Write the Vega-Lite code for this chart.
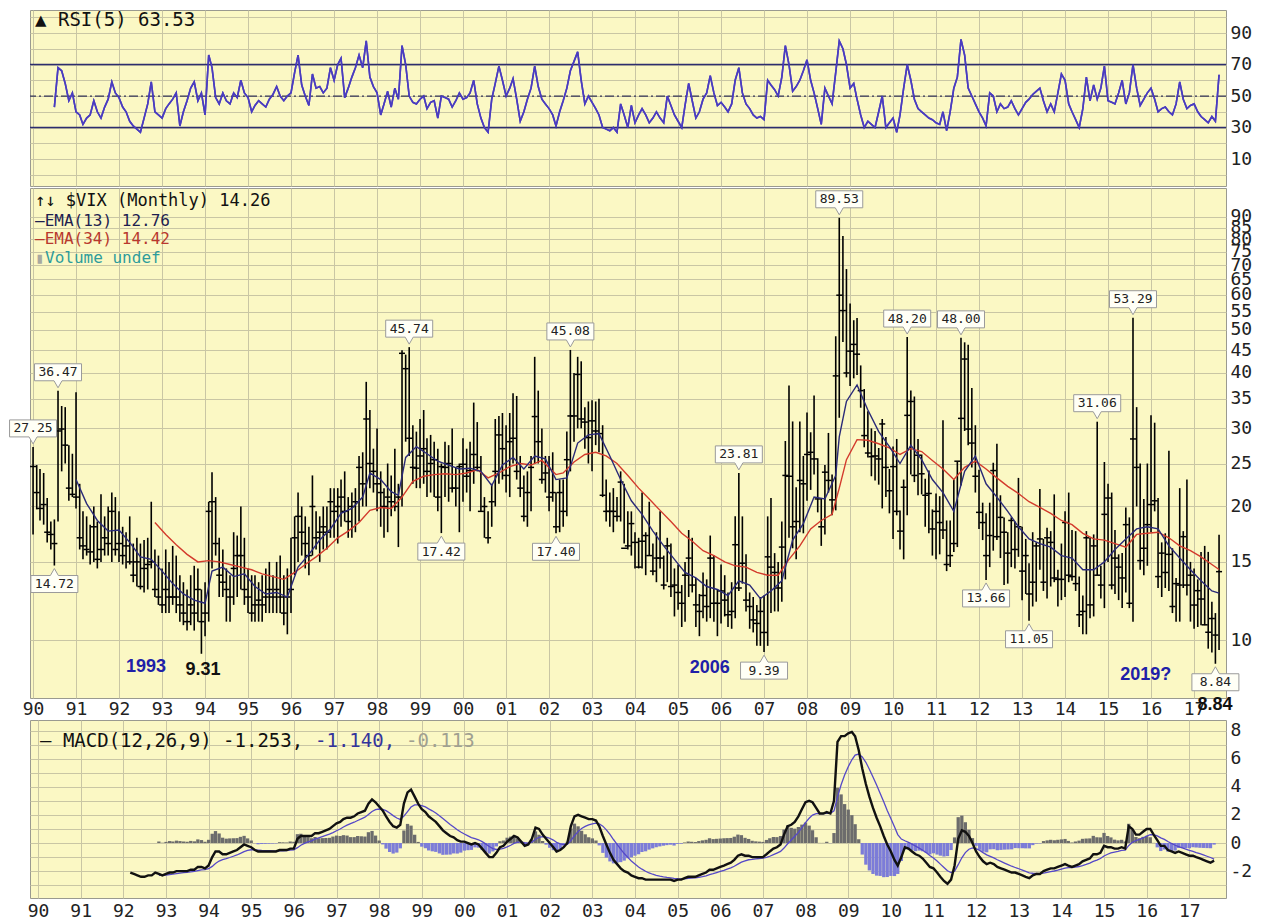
{
"$schema":"https://vega.github.io/schema/vega-lite/v6.json",
"background":"white",
"padding":{"left":7,"top":9,"right":0,"bottom":0},
"autosize":{"type":"pad"},
"config":{
 "locale":{"number":{"decimal":".","thousands":",","grouping":[3],"currency":["$",""],"minus":"-"}},
 "view":{"fill":"#FBF8C4","stroke":"#9A9A90","strokeWidth":1},
 "axis":{"labelFont":"DejaVu Sans Mono","labelFontSize":18,"labelColor":"#222222","gridColor":"#C9C6A4","gridWidth":1,"gridOpacity":1,"domain":false,"ticks":false,"title":null,"labelOverlap":false},
 "text":{"font":"DejaVu Sans Mono"}
},
"datasets":{
"vix":[
{"d":"1990-01-01","h":27.25,"l":17.3,"c":24.6},
{"d":"1990-02-01","h":24.8,"l":19.7,"c":21.5},
{"d":"1990-03-01","h":24.3,"l":18.6,"c":19.8},
{"d":"1990-04-01","h":23.8,"l":18.2,"c":20.2},
{"d":"1990-05-01","h":20.9,"l":16.6,"c":17.5},
{"d":"1990-06-01","h":18.5,"l":16.0,"c":17.3},
{"d":"1990-07-01","h":18.7,"l":14.72,"c":16.5,"r":43},
{"d":"1990-08-01","h":36.47,"l":18.5,"c":29.6,"r":68},
{"d":"1990-09-01","h":33.7,"l":24.0,"c":29.9,"r":66},
{"d":"1990-10-01","h":33.5,"l":25.0,"c":27.5,"r":58},
{"d":"1990-11-01","h":27.5,"l":20.6,"c":22.0,"r":47},
{"d":"1990-12-01","h":26.3,"l":21.0,"c":21.3,"r":52},
{"d":"1991-01-01","h":36.2,"l":19.8,"c":21.0,"r":40},
{"d":"1991-02-01","h":22.5,"l":16.0,"c":17.0,"r":38},
{"d":"1991-03-01","h":19.5,"l":15.2,"c":16.3,"r":32},
{"d":"1991-04-01","h":19.0,"l":15.5,"c":16.0,"r":36},
{"d":"1991-05-01","h":18.2,"l":14.8,"c":15.8,"r":38},
{"d":"1991-06-01","h":20.0,"l":15.0,"c":18.0,"r":47},
{"d":"1991-07-01","h":18.5,"l":14.5,"c":15.2,"r":40},
{"d":"1991-08-01","h":21.3,"l":15.0,"c":16.0,"r":36},
{"d":"1991-09-01","h":19.0,"l":15.5,"c":17.0,"r":43},
{"d":"1991-10-01","h":20.0,"l":15.5,"c":16.5,"r":48},
{"d":"1991-11-01","h":21.5,"l":15.0,"c":19.5,"r":59},
{"d":"1991-12-01","h":21.0,"l":15.5,"c":16.0,"r":52},
{"d":"1992-01-01","h":19.5,"l":15.0,"c":16.5,"r":49},
{"d":"1992-02-01","h":18.0,"l":14.8,"c":15.5,"r":43},
{"d":"1992-03-01","h":17.5,"l":14.5,"c":16.3,"r":40,"m":-2.1},
{"d":"1992-04-01","h":19.0,"l":14.8,"c":15.0,"r":34,"m":-2.2},
{"d":"1992-05-01","h":16.5,"l":13.5,"c":14.0,"r":31,"m":-2.3},
{"d":"1992-06-01","h":17.0,"l":13.2,"c":15.0,"r":29,"m":-2.4},
{"d":"1992-07-01","h":16.5,"l":13.0,"c":13.2,"r":27,"m":-2.4},
{"d":"1992-08-01","h":16.8,"l":12.8,"c":14.5,"r":36,"m":-2.3},
{"d":"1992-09-01","h":17.0,"l":13.0,"c":14.8,"r":45,"m":-2.3},
{"d":"1992-10-01","h":20.5,"l":14.5,"c":15.0,"r":59,"m":-2.1},
{"d":"1992-11-01","h":16.0,"l":12.5,"c":13.0,"r":40,"m":-2.2,"s":-2.3,"b":0.1},
{"d":"1992-12-01","h":15.5,"l":12.0,"c":12.5,"r":38,"m":-2.3,"s":-2.3,"b":0.02},
{"d":"1993-01-01","h":14.5,"l":11.5,"c":12.0,"r":36,"m":-2.2,"s":-2.28,"b":0.08},
{"d":"1993-02-01","h":16.0,"l":11.5,"c":13.0,"r":42,"m":-2.1,"s":-2.24,"b":0.14},
{"d":"1993-03-01","h":15.0,"l":11.5,"c":12.5,"r":45,"m":-2.1,"s":-2.21,"b":0.11},
{"d":"1993-04-01","h":16.3,"l":12.0,"c":12.5,"r":48,"m":-2.0,"s":-2.17,"b":0.17},
{"d":"1993-05-01","h":15.5,"l":11.5,"c":12.5,"r":52,"m":-2.0,"s":-2.14,"b":0.14},
{"d":"1993-06-01","h":14.0,"l":11.0,"c":12.0,"r":31,"m":-2.0,"s":-2.11,"b":0.11},
{"d":"1993-07-01","h":13.5,"l":10.8,"c":11.5,"r":40,"m":-2.0,"s":-2.09,"b":0.09},
{"d":"1993-08-01","h":13.0,"l":10.5,"c":11.0,"r":47,"m":-1.9,"s":-2.05,"b":0.15},
{"d":"1993-09-01","h":14.0,"l":10.8,"c":12.0,"r":55,"m":-1.9,"s":-2.02,"b":0.12},
{"d":"1993-10-01","h":14.7,"l":10.5,"c":11.5,"r":59,"m":-1.7,"s":-1.96,"b":0.26},
{"d":"1993-11-01","h":14.5,"l":11.0,"c":13.0,"r":47,"m":-1.7,"s":-1.91,"b":0.21},
{"d":"1993-12-01","h":13.0,"l":9.31,"c":11.0,"r":52,"m":-1.8,"s":-1.89,"b":0.09},
{"d":"1994-01-01","h":13.5,"l":10.2,"c":11.5,"r":38,"m":-1.6,"s":-1.83,"b":0.23},
{"d":"1994-02-01","h":20.5,"l":11.0,"c":19.5,"r":76,"m":-1.0,"s":-1.66,"b":0.66},
{"d":"1994-03-01","h":23.9,"l":14.5,"c":20.5,"r":68,"m":-0.6,"s":-1.45,"b":0.85},
{"d":"1994-04-01","h":21.0,"l":15.5,"c":16.5,"r":49,"m":-0.6,"s":-1.28,"b":0.68},
{"d":"1994-05-01","h":17.0,"l":12.5,"c":14.0,"r":45,"m":-0.8,"s":-1.18,"b":0.38},
{"d":"1994-06-01","h":16.0,"l":12.5,"c":13.5,"r":52,"m":-0.8,"s":-1.11,"b":0.31},
{"d":"1994-07-01","h":14.5,"l":11.0,"c":13.0,"r":47,"m":-0.7,"s":-1.03,"b":0.33},
{"d":"1994-08-01","h":14.0,"l":11.0,"c":12.5,"r":45,"m":-0.6,"s":-0.94,"b":0.34},
{"d":"1994-09-01","h":17.5,"l":12.0,"c":14.5,"r":52,"m":-0.5,"s":-0.85,"b":0.35},
{"d":"1994-10-01","h":17.2,"l":12.5,"c":15.5,"r":49,"m":-0.3,"s":-0.74,"b":0.44},
{"d":"1994-11-01","h":20.0,"l":13.0,"c":15.5,"r":60,"m":-0.1,"s":-0.61,"b":0.51},
{"d":"1994-12-01","h":17.0,"l":12.0,"c":13.0,"r":52,"m":-0.2,"s":-0.53,"b":0.33},
{"d":"1995-01-01","h":14.5,"l":11.5,"c":12.5,"r":49,"m":-0.3,"s":-0.48,"b":0.18},
{"d":"1995-02-01","h":14.0,"l":11.0,"c":11.5,"r":40,"m":-0.5,"s":-0.49,"b":-0.01},
{"d":"1995-03-01","h":14.0,"l":11.0,"c":12.0,"r":44,"m":-0.6,"s":-0.51,"b":-0.09},
{"d":"1995-04-01","h":13.5,"l":11.0,"c":12.3,"r":47,"m":-0.6,"s":-0.53,"b":-0.07},
{"d":"1995-05-01","h":14.0,"l":11.0,"c":12.0,"r":45,"m":-0.6,"s":-0.54,"b":-0.06},
{"d":"1995-06-01","h":14.5,"l":11.5,"c":12.5,"r":43,"m":-0.6,"s":-0.55,"b":-0.05},
{"d":"1995-07-01","h":15.0,"l":11.5,"c":13.0,"r":48,"m":-0.6,"s":-0.56,"b":-0.04},
{"d":"1995-08-01","h":14.0,"l":11.5,"c":12.5,"r":51,"m":-0.6,"s":-0.57,"b":-0.03},
{"d":"1995-09-01","h":15.0,"l":11.5,"c":13.0,"r":56,"m":-0.5,"s":-0.56,"b":0.06},
{"d":"1995-10-01","h":15.5,"l":11.5,"c":12.5,"r":50,"m":-0.5,"s":-0.55,"b":0.05},
{"d":"1995-11-01","h":14.0,"l":10.8,"c":11.5,"r":47,"m":-0.5,"s":-0.54,"b":0.04},
{"d":"1995-12-01","h":14.5,"l":10.3,"c":12.5,"r":50,"m":-0.4,"s":-0.51,"b":0.11},
{"d":"1996-01-01","h":17.0,"l":11.5,"c":13.0,"r":52,"m":-0.4,"s":-0.49,"b":0.09},
{"d":"1996-02-01","h":19.0,"l":14.0,"c":17.0,"r":65,"m":0.3,"s":-0.33,"b":0.63},
{"d":"1996-03-01","h":21.5,"l":15.0,"c":19.0,"r":76,"m":0.5,"s":-0.16,"b":0.66},
{"d":"1996-04-01","h":20.0,"l":15.5,"c":17.5,"r":57,"m":0.5,"s":-0.03,"b":0.53},
{"d":"1996-05-01","h":19.0,"l":14.5,"c":16.5,"r":50,"m":0.5,"s":0.08,"b":0.42},
{"d":"1996-06-01","h":18.0,"l":14.0,"c":15.5,"r":44,"m":0.5,"s":0.16,"b":0.34},
{"d":"1996-07-01","h":23.5,"l":15.5,"c":20.0,"r":64,"m":0.7,"s":0.27,"b":0.43},
{"d":"1996-08-01","h":19.5,"l":16.0,"c":17.0,"r":55,"m":0.7,"s":0.36,"b":0.34},
{"d":"1996-09-01","h":19.0,"l":15.0,"c":17.5,"r":56,"m":0.8,"s":0.45,"b":0.35},
{"d":"1996-10-01","h":20.0,"l":16.0,"c":18.0,"r":52,"m":0.9,"s":0.54,"b":0.36},
{"d":"1996-11-01","h":20.0,"l":16.0,"c":17.5,"r":55,"m":1.0,"s":0.63,"b":0.37},
{"d":"1996-12-01","h":22.0,"l":17.0,"c":20.5,"r":68,"m":1.2,"s":0.74,"b":0.46},
{"d":"1997-01-01","h":22.0,"l":17.0,"c":19.5,"r":60,"m":1.4,"s":0.87,"b":0.53},
{"d":"1997-02-01","h":22.0,"l":16.5,"c":20.0,"r":70,"m":1.5,"s":1.0,"b":0.5},
{"d":"1997-03-01","h":23.0,"l":18.0,"c":21.0,"r":74,"m":1.7,"s":1.14,"b":0.56},
{"d":"1997-04-01","h":24.0,"l":18.5,"c":19.5,"r":49,"m":1.8,"s":1.27,"b":0.53},
{"d":"1997-05-01","h":21.0,"l":17.0,"c":18.5,"r":55,"m":1.8,"s":1.38,"b":0.42},
{"d":"1997-06-01","h":21.5,"l":17.0,"c":20.0,"r":62,"m":1.9,"s":1.48,"b":0.42},
{"d":"1997-07-01","h":22.0,"l":17.5,"c":20.5,"r":68,"m":2.1,"s":1.6,"b":0.5},
{"d":"1997-08-01","h":26.0,"l":18.5,"c":24.5,"r":76,"m":2.2,"s":1.72,"b":0.48},
{"d":"1997-09-01","h":26.5,"l":20.0,"c":22.5,"r":68,"m":2.3,"s":1.84,"b":0.46},
{"d":"1997-10-01","h":38.2,"l":20.0,"c":31.5,"r":85,"m":2.8,"s":2.03,"b":0.77},
{"d":"1997-11-01","h":33.0,"l":22.0,"c":25.0,"r":62,"m":3.1,"s":2.24,"b":0.86},
{"d":"1997-12-01","h":27.0,"l":21.5,"c":24.0,"r":56,"m":2.9,"s":2.37,"b":0.53},
{"d":"1998-01-01","h":30.0,"l":19.5,"c":22.5,"r":52,"m":2.6,"s":2.42,"b":0.18},
{"d":"1998-02-01","h":24.0,"l":18.0,"c":21.5,"r":38,"m":2.3,"s":2.4,"b":-0.1},
{"d":"1998-03-01","h":22.0,"l":17.0,"c":20.0,"r":45,"m":1.9,"s":2.3,"b":-0.4},
{"d":"1998-04-01","h":25.0,"l":17.5,"c":21.0,"r":53,"m":1.5,"s":2.14,"b":-0.64},
{"d":"1998-05-01","h":23.5,"l":19.0,"c":20.5,"r":43,"m":1.2,"s":1.95,"b":-0.75},
{"d":"1998-06-01","h":27.0,"l":19.5,"c":20.0,"r":55,"m":1.1,"s":1.78,"b":-0.68},
{"d":"1998-07-01","h":22.5,"l":16.2,"c":21.0,"r":48,"m":1.3,"s":1.68,"b":-0.38},
{"d":"1998-08-01","h":45.0,"l":20.0,"c":44.3,"r":82,"m":2.8,"s":1.91,"b":0.89},
{"d":"1998-09-01","h":44.0,"l":28.0,"c":40.9,"r":70,"m":3.6,"s":2.24,"b":1.36},
{"d":"1998-10-01","h":45.74,"l":26.0,"c":28.5,"r":50,"m":3.8,"s":2.56,"b":1.24},
{"d":"1998-11-01","h":30.5,"l":22.5,"c":24.5,"r":46,"m":3.3,"s":2.71,"b":0.59},
{"d":"1998-12-01","h":29.5,"l":22.0,"c":24.4,"r":45,"m":2.8,"s":2.72,"b":0.08},
{"d":"1999-01-01","h":31.5,"l":22.0,"c":26.0,"r":48,"m":2.4,"s":2.66,"b":-0.26},
{"d":"1999-02-01","h":33.0,"l":22.5,"c":27.0,"r":50,"m":2.2,"s":2.57,"b":-0.37},
{"d":"1999-03-01","h":28.5,"l":21.0,"c":24.0,"r":42,"m":1.9,"s":2.43,"b":-0.53},
{"d":"1999-04-01","h":29.0,"l":21.5,"c":25.0,"r":46,"m":1.7,"s":2.29,"b":-0.59},
{"d":"1999-05-01","h":28.0,"l":21.0,"c":25.5,"r":47,"m":1.5,"s":2.13,"b":-0.63},
{"d":"1999-06-01","h":27.0,"l":19.5,"c":21.0,"r":36,"m":1.2,"s":1.94,"b":-0.74},
{"d":"1999-07-01","h":25.0,"l":17.42,"c":24.6,"r":50,"m":0.9,"s":1.74,"b":-0.84},
{"d":"1999-08-01","h":28.0,"l":21.0,"c":24.5,"r":49,"m":0.7,"s":1.53,"b":-0.83},
{"d":"1999-09-01","h":27.5,"l":20.5,"c":25.0,"r":48,"m":0.5,"s":1.32,"b":-0.82},
{"d":"1999-10-01","h":30.0,"l":21.5,"c":22.0,"r":43,"m":0.4,"s":1.14,"b":-0.74},
{"d":"1999-11-01","h":24.5,"l":20.0,"c":22.0,"r":47,"m":0.2,"s":0.95,"b":-0.75},
{"d":"1999-12-01","h":25.0,"l":17.5,"c":24.6,"r":52,"m":0.1,"s":0.78,"b":-0.68},
{"d":"2000-01-01","h":28.5,"l":20.5,"c":24.9,"r":48,"m":0.1,"s":0.64,"b":-0.54},
{"d":"2000-02-01","h":27.0,"l":21.5,"c":23.4,"r":49,"m":0.0,"s":0.51,"b":-0.51},
{"d":"2000-03-01","h":28.0,"l":19.5,"c":24.1,"r":52,"m":-0.1,"s":0.39,"b":-0.49},
{"d":"2000-04-01","h":34.3,"l":22.5,"c":26.2,"r":60,"m":0.0,"s":0.31,"b":-0.31},
{"d":"2000-05-01","h":31.0,"l":24.0,"c":24.5,"r":45,"m":-0.1,"s":0.23,"b":-0.33},
{"d":"2000-06-01","h":26.0,"l":19.5,"c":19.5,"r":36,"m":-0.4,"s":0.1,"b":-0.5},
{"d":"2000-07-01","h":21.0,"l":17.0,"c":20.0,"r":30,"m":-0.7,"s":-0.06,"b":-0.64},
{"d":"2000-08-01","h":19.5,"l":16.5,"c":17.0,"r":27,"m":-1.0,"s":-0.25,"b":-0.75},
{"d":"2000-09-01","h":22.5,"l":18.0,"c":20.5,"r":48,"m":-1.0,"s":-0.4,"b":-0.6},
{"d":"2000-10-01","h":31.5,"l":20.0,"c":24.0,"r":58,"m":-0.7,"s":-0.46,"b":-0.24},
{"d":"2000-11-01","h":32.0,"l":22.5,"c":29.0,"r":69,"m":-0.3,"s":-0.43,"b":0.13},
{"d":"2000-12-01","h":32.5,"l":23.0,"c":27.0,"r":60,"m":-0.2,"s":-0.38,"b":0.18},
{"d":"2001-01-01","h":30.5,"l":21.5,"c":23.5,"r":50,"m":0.1,"s":-0.28,"b":0.38},
{"d":"2001-02-01","h":32.5,"l":21.0,"c":28.0,"r":55,"m":0.3,"s":-0.16,"b":0.46},
{"d":"2001-03-01","h":36.0,"l":25.0,"c":28.5,"r":61,"m":0.5,"s":-0.03,"b":0.53},
{"d":"2001-04-01","h":35.5,"l":23.0,"c":24.0,"r":48,"m":0.4,"s":0.06,"b":0.34},
{"d":"2001-05-01","h":26.0,"l":21.0,"c":22.0,"r":34,"m":0.1,"s":0.07,"b":0.03},
{"d":"2001-06-01","h":23.5,"l":18.5,"c":19.0,"r":40,"m":-0.2,"s":0.02,"b":-0.22},
{"d":"2001-07-01","h":24.0,"l":18.0,"c":21.5,"r":48,"m":-0.1,"s":0.0,"b":-0.1},
{"d":"2001-08-01","h":26.0,"l":19.5,"c":24.5,"r":55,"m":0.3,"s":0.06,"b":0.24},
{"d":"2001-09-01","h":43.5,"l":25.0,"c":31.9,"r":69,"m":1.1,"s":0.27,"b":0.83},
{"d":"2001-10-01","h":36.5,"l":25.0,"c":28.0,"r":56,"m":1.0,"s":0.41,"b":0.59},
{"d":"2001-11-01","h":30.0,"l":22.5,"c":23.0,"r":48,"m":0.6,"s":0.45,"b":0.15},
{"d":"2001-12-01","h":26.0,"l":21.5,"c":23.8,"r":45,"m":0.3,"s":0.42,"b":-0.12},
{"d":"2002-01-01","h":26.0,"l":19.5,"c":21.0,"r":42,"m":0.0,"s":0.34,"b":-0.34},
{"d":"2002-02-01","h":26.5,"l":20.5,"c":21.5,"r":38,"m":-0.3,"s":0.21,"b":-0.51},
{"d":"2002-03-01","h":21.5,"l":17.4,"c":18.0,"r":31,"m":-0.6,"s":0.05,"b":-0.65},
{"d":"2002-04-01","h":23.0,"l":17.5,"c":21.5,"r":40,"m":-0.5,"s":-0.06,"b":-0.44},
{"d":"2002-05-01","h":23.0,"l":18.0,"c":19.5,"r":47,"m":-0.3,"s":-0.11,"b":-0.19},
{"d":"2002-06-01","h":29.5,"l":19.0,"c":25.5,"r":55,"m":0.0,"s":-0.09,"b":0.09},
{"d":"2002-07-01","h":45.08,"l":24.0,"c":32.0,"r":66,"m":1.2,"s":0.17,"b":1.03},
{"d":"2002-08-01","h":40.0,"l":28.0,"c":32.0,"r":72,"m":1.9,"s":0.52,"b":1.38},
{"d":"2002-09-01","h":43.5,"l":30.0,"c":39.7,"r":78,"m":2.0,"s":0.81,"b":1.19},
{"d":"2002-10-01","h":42.5,"l":30.0,"c":31.5,"r":60,"m":1.9,"s":1.03,"b":0.87},
{"d":"2002-11-01","h":33.5,"l":27.0,"c":31.0,"r":45,"m":1.8,"s":1.18,"b":0.62},
{"d":"2002-12-01","h":34.5,"l":25.0,"c":28.6,"r":50,"m":1.7,"s":1.29,"b":0.41},
{"d":"2003-01-01","h":34.7,"l":24.0,"c":31.2,"r":46,"m":1.7,"s":1.37,"b":0.33},
{"d":"2003-02-01","h":34.5,"l":27.5,"c":29.6,"r":42,"m":1.6,"s":1.42,"b":0.18},
{"d":"2003-03-01","h":35.0,"l":26.5,"c":29.2,"r":38,"m":1.2,"s":1.37,"b":-0.17},
{"d":"2003-04-01","h":30.5,"l":21.0,"c":21.2,"r":30,"m":0.5,"s":1.2,"b":-0.7},
{"d":"2003-05-01","h":23.0,"l":18.5,"c":19.5,"r":29,"m":-0.1,"s":0.94,"b":-1.04},
{"d":"2003-06-01","h":21.5,"l":18.0,"c":19.5,"r":28,"m":-0.7,"s":0.61,"b":-1.31},
{"d":"2003-07-01","h":22.0,"l":17.5,"c":19.5,"r":30,"m":-1.2,"s":0.25,"b":-1.45},
{"d":"2003-08-01","h":21.0,"l":18.5,"c":19.0,"r":27,"m":-1.5,"s":-0.1,"b":-1.4},
{"d":"2003-09-01","h":24.0,"l":18.5,"c":22.7,"r":45,"m":-1.8,"s":-0.44,"b":-1.36},
{"d":"2003-10-01","h":22.5,"l":16.5,"c":16.1,"r":38,"m":-2.0,"s":-0.75,"b":-1.25},
{"d":"2003-11-01","h":19.5,"l":16.0,"c":16.3,"r":30,"m":-2.1,"s":-1.02,"b":-1.08},
{"d":"2003-12-01","h":19.5,"l":15.5,"c":18.3,"r":44,"m":-2.3,"s":-1.28,"b":-1.02},
{"d":"2004-01-01","h":17.5,"l":14.5,"c":16.6,"r":33,"m":-2.4,"s":-1.5,"b":-0.9},
{"d":"2004-02-01","h":17.0,"l":14.5,"c":14.6,"r":38,"m":-2.5,"s":-1.7,"b":-0.8},
{"d":"2004-03-01","h":21.5,"l":14.5,"c":16.7,"r":42,"m":-2.5,"s":-1.86,"b":-0.64},
{"d":"2004-04-01","h":17.5,"l":14.0,"c":17.2,"r":38,"m":-2.6,"s":-2.01,"b":-0.59},
{"d":"2004-05-01","h":20.5,"l":15.5,"c":15.5,"r":33,"m":-2.6,"s":-2.13,"b":-0.47},
{"d":"2004-06-01","h":16.5,"l":14.0,"c":14.3,"r":36,"m":-2.6,"s":-2.22,"b":-0.38},
{"d":"2004-07-01","h":17.5,"l":13.5,"c":15.3,"r":40,"m":-2.6,"s":-2.3,"b":-0.3},
{"d":"2004-08-01","h":19.5,"l":14.5,"c":15.3,"r":36,"m":-2.6,"s":-2.36,"b":-0.24},
{"d":"2004-09-01","h":15.5,"l":13.0,"c":13.3,"r":33,"m":-2.6,"s":-2.41,"b":-0.19},
{"d":"2004-10-01","h":17.0,"l":13.5,"c":16.3,"r":50,"m":-2.6,"s":-2.45,"b":-0.15},
{"d":"2004-11-01","h":16.5,"l":12.5,"c":13.2,"r":44,"m":-2.6,"s":-2.48,"b":-0.12},
{"d":"2004-12-01","h":14.5,"l":11.3,"c":13.3,"r":38,"m":-2.7,"s":-2.52,"b":-0.18},
{"d":"2005-01-01","h":14.8,"l":11.7,"c":12.8,"r":34,"m":-2.6,"s":-2.54,"b":-0.06},
{"d":"2005-02-01","h":13.3,"l":10.7,"c":12.1,"r":30,"m":-2.6,"s":-2.55,"b":-0.05},
{"d":"2005-03-01","h":15.0,"l":11.0,"c":14.0,"r":44,"m":-2.5,"s":-2.54,"b":0.04},
{"d":"2005-04-01","h":17.7,"l":12.5,"c":15.3,"r":58,"m":-2.4,"s":-2.51,"b":0.11},
{"d":"2005-05-01","h":17.0,"l":12.8,"c":13.3,"r":47,"m":-2.4,"s":-2.49,"b":0.09},
{"d":"2005-06-01","h":13.8,"l":10.7,"c":12.0,"r":36,"m":-2.4,"s":-2.47,"b":0.07},
{"d":"2005-07-01","h":12.7,"l":10.2,"c":11.6,"r":40,"m":-2.3,"s":-2.44,"b":0.14},
{"d":"2005-08-01","h":14.2,"l":11.2,"c":12.6,"r":48,"m":-2.2,"s":-2.39,"b":0.19},
{"d":"2005-09-01","h":13.7,"l":11.0,"c":11.9,"r":52,"m":-2.1,"s":-2.33,"b":0.23},
{"d":"2005-10-01","h":17.2,"l":11.2,"c":15.3,"r":63,"m":-1.9,"s":-2.24,"b":0.34},
{"d":"2005-11-01","h":15.5,"l":11.0,"c":12.1,"r":52,"m":-1.9,"s":-2.18,"b":0.28},
{"d":"2005-12-01","h":13.0,"l":10.2,"c":12.1,"r":44,"m":-1.8,"s":-2.1,"b":0.3},
{"d":"2006-01-01","h":14.8,"l":10.9,"c":12.9,"r":46,"m":-1.7,"s":-2.02,"b":0.32},
{"d":"2006-02-01","h":14.0,"l":11.3,"c":12.3,"r":43,"m":-1.6,"s":-1.94,"b":0.34},
{"d":"2006-03-01","h":12.8,"l":10.7,"c":11.4,"r":40,"m":-1.5,"s":-1.85,"b":0.35},
{"d":"2006-04-01","h":13.5,"l":10.6,"c":11.6,"r":45,"m":-1.4,"s":-1.76,"b":0.36},
{"d":"2006-05-01","h":19.0,"l":11.2,"c":16.4,"r":60,"m":-1.2,"s":-1.65,"b":0.45},
{"d":"2006-06-01","h":23.81,"l":12.9,"c":13.1,"r":68,"m":-0.9,"s":-1.5,"b":0.6},
{"d":"2006-07-01","h":19.0,"l":13.4,"c":14.9,"r":52,"m":-0.8,"s":-1.36,"b":0.56},
{"d":"2006-08-01","h":15.6,"l":11.6,"c":12.3,"r":45,"m":-0.9,"s":-1.27,"b":0.37},
{"d":"2006-09-01","h":12.8,"l":10.6,"c":11.9,"r":42,"m":-0.9,"s":-1.19,"b":0.29},
{"d":"2006-10-01","h":12.5,"l":10.4,"c":11.1,"r":38,"m":-1.0,"s":-1.16,"b":0.16},
{"d":"2006-11-01","h":12.0,"l":9.7,"c":10.9,"r":36,"m":-1.0,"s":-1.12,"b":0.12},
{"d":"2006-12-01","h":12.5,"l":9.7,"c":11.6,"r":37,"m":-1.0,"s":-1.1,"b":0.1},
{"d":"2007-01-01","h":12.6,"l":9.39,"c":10.4,"r":35,"m":-1.0,"s":-1.08,"b":0.08},
{"d":"2007-02-01","h":19.0,"l":9.7,"c":15.4,"r":60,"m":-0.8,"s":-1.02,"b":0.22},
{"d":"2007-03-01","h":20.9,"l":11.5,"c":14.6,"r":57,"m":-0.6,"s":-0.94,"b":0.34},
{"d":"2007-04-01","h":15.7,"l":11.6,"c":14.2,"r":54,"m":-0.4,"s":-0.83,"b":0.43},
{"d":"2007-05-01","h":15.0,"l":11.6,"c":13.1,"r":50,"m":-0.3,"s":-0.72,"b":0.42},
{"d":"2007-06-01","h":18.5,"l":12.2,"c":16.2,"r":62,"m":-0.1,"s":-0.6,"b":0.5},
{"d":"2007-07-01","h":28.1,"l":13.7,"c":23.5,"r":82,"m":0.6,"s":-0.36,"b":0.96},
{"d":"2007-08-01","h":37.5,"l":17.0,"c":23.4,"r":70,"m":1.2,"s":-0.05,"b":1.25},
{"d":"2007-09-01","h":31.1,"l":16.1,"c":18.0,"r":53,"m":1.3,"s":0.22,"b":1.08},
{"d":"2007-10-01","h":22.1,"l":15.2,"c":18.5,"r":56,"m":1.5,"s":0.48,"b":1.02},
{"d":"2007-11-01","h":31.1,"l":17.5,"c":22.9,"r":60,"m":1.9,"s":0.76,"b":1.14},
{"d":"2007-12-01","h":26.0,"l":17.4,"c":22.5,"r":66,"m":2.4,"s":1.09,"b":1.31},
{"d":"2008-01-01","h":32.6,"l":20.6,"c":26.2,"r":73,"m":2.9,"s":1.45,"b":1.45},
{"d":"2008-02-01","h":29.4,"l":21.8,"c":26.5,"r":60,"m":3.0,"s":1.76,"b":1.24},
{"d":"2008-03-01","h":35.6,"l":23.6,"c":25.6,"r":52,"m":2.9,"s":1.99,"b":0.91},
{"d":"2008-04-01","h":25.7,"l":19.4,"c":20.8,"r":42,"m":2.5,"s":2.09,"b":0.41},
{"d":"2008-05-01","h":20.9,"l":16.3,"c":18.0,"r":32,"m":2.1,"s":2.09,"b":0.01},
{"d":"2008-06-01","h":24.8,"l":17.3,"c":23.9,"r":55,"m":2.1,"s":2.09,"b":0.01},
{"d":"2008-07-01","h":29.3,"l":21.5,"c":22.9,"r":50,"m":2.2,"s":2.11,"b":0.09},
{"d":"2008-08-01","h":23.6,"l":19.1,"c":20.7,"r":45,"m":2.1,"s":2.11,"b":-0.01},
{"d":"2008-09-01","h":48.4,"l":19.6,"c":39.4,"r":65,"m":3.0,"s":2.29,"b":0.71},
{"d":"2008-10-01","h":89.53,"l":31.7,"c":59.9,"r":85,"m":7.2,"s":3.27,"b":3.93},
{"d":"2008-11-01","h":81.5,"l":47.0,"c":55.3,"r":80,"m":7.6,"s":4.14,"b":3.46},
{"d":"2008-12-01","h":68.6,"l":39.1,"c":40.0,"r":70,"m":7.6,"s":4.83,"b":2.77},
{"d":"2009-01-01","h":57.4,"l":37.4,"c":44.8,"r":55,"m":7.8,"s":5.42,"b":2.38},
{"d":"2009-02-01","h":52.6,"l":38.9,"c":46.4,"r":58,"m":7.9,"s":5.92,"b":1.98},
{"d":"2009-03-01","h":53.2,"l":39.6,"c":44.1,"r":48,"m":7.6,"s":6.26,"b":1.34},
{"d":"2009-04-01","h":41.6,"l":33.4,"c":36.5,"r":38,"m":6.6,"s":6.33,"b":0.27},
{"d":"2009-05-01","h":36.8,"l":27.2,"c":28.9,"r":30,"m":5.3,"s":6.12,"b":-0.82},
{"d":"2009-06-01","h":32.8,"l":25.8,"c":26.4,"r":34,"m":4.2,"s":5.74,"b":-1.54},
{"d":"2009-07-01","h":30.0,"l":23.4,"c":25.9,"r":32,"m":3.3,"s":5.25,"b":-1.95},
{"d":"2009-08-01","h":29.6,"l":22.9,"c":26.0,"r":30,"m":2.5,"s":4.7,"b":-2.2},
{"d":"2009-09-01","h":27.1,"l":22.4,"c":25.6,"r":40,"m":1.8,"s":4.12,"b":-2.32},
{"d":"2009-10-01","h":31.5,"l":19.8,"c":30.7,"r":50,"m":1.2,"s":3.54,"b":-2.34},
{"d":"2009-11-01","h":28.7,"l":21.0,"c":24.5,"r":30,"m":0.5,"s":2.93,"b":-2.43},
{"d":"2009-12-01","h":24.3,"l":19.3,"c":21.7,"r":33,"m":-0.1,"s":2.32,"b":-2.42},
{"d":"2010-01-01","h":27.3,"l":16.9,"c":24.6,"r":36,"m":-0.6,"s":1.74,"b":-2.34},
{"d":"2010-02-01","h":28.4,"l":19.1,"c":19.5,"r":27,"m":-1.2,"s":1.15,"b":-2.35},
{"d":"2010-03-01","h":19.6,"l":16.0,"c":17.6,"r":38,"m":-1.6,"s":0.6,"b":-2.2},
{"d":"2010-04-01","h":23.0,"l":15.2,"c":22.1,"r":55,"m":-1.0,"s":0.28,"b":-1.28},
{"d":"2010-05-01","h":48.2,"l":19.1,"c":32.1,"r":70,"m":-0.3,"s":0.16,"b":-0.46},
{"d":"2010-06-01","h":36.5,"l":23.6,"c":34.5,"r":60,"m":-0.4,"s":0.05,"b":-0.45},
{"d":"2010-07-01","h":35.4,"l":22.7,"c":23.5,"r":48,"m":-0.6,"s":-0.08,"b":-0.52},
{"d":"2010-08-01","h":28.4,"l":21.2,"c":26.1,"r":42,"m":-0.8,"s":-0.22,"b":-0.58},
{"d":"2010-09-01","h":26.2,"l":21.3,"c":23.7,"r":40,"m":-0.9,"s":-0.36,"b":-0.54},
{"d":"2010-10-01","h":23.1,"l":18.0,"c":21.2,"r":38,"m":-1.1,"s":-0.51,"b":-0.59},
{"d":"2010-11-01","h":24.1,"l":17.4,"c":21.4,"r":36,"m":-1.4,"s":-0.69,"b":-0.71},
{"d":"2010-12-01","h":19.7,"l":15.5,"c":17.8,"r":35,"m":-1.7,"s":-0.89,"b":-0.81},
{"d":"2011-01-01","h":21.4,"l":15.2,"c":19.5,"r":33,"m":-1.8,"s":-1.07,"b":-0.73},
{"d":"2011-02-01","h":21.1,"l":15.6,"c":18.4,"r":32,"m":-2.1,"s":-1.28,"b":-0.82},
{"d":"2011-03-01","h":31.3,"l":16.9,"c":17.7,"r":40,"m":-2.4,"s":-1.5,"b":-0.9},
{"d":"2011-04-01","h":18.6,"l":14.3,"c":14.8,"r":28,"m":-2.7,"s":-1.74,"b":-0.96},
{"d":"2011-05-01","h":18.6,"l":14.6,"c":15.5,"r":40,"m":-2.9,"s":-1.97,"b":-0.93},
{"d":"2011-06-01","h":23.0,"l":15.8,"c":16.5,"r":55,"m":-2.6,"s":-2.1,"b":-0.5},
{"d":"2011-07-01","h":25.2,"l":16.2,"c":25.3,"r":62,"m":-1.6,"s":-2.0,"b":0.4},
{"d":"2011-08-01","h":48.0,"l":22.3,"c":31.6,"r":86,"m":0.3,"s":-1.54,"b":1.84},
{"d":"2011-09-01","h":46.9,"l":29.6,"c":43.0,"r":76,"m":0.9,"s":-1.05,"b":1.95},
{"d":"2011-10-01","h":46.3,"l":27.5,"c":29.9,"r":55,"m":0.8,"s":-0.68,"b":1.48},
{"d":"2011-11-01","h":37.0,"l":24.5,"c":27.8,"r":50,"m":0.5,"s":-0.44,"b":0.94},
{"d":"2011-12-01","h":30.5,"l":21.5,"c":23.4,"r":45,"m":0.0,"s":-0.35,"b":0.35},
{"d":"2012-01-01","h":24.2,"l":17.8,"c":19.4,"r":40,"m":-0.6,"s":-0.4,"b":-0.2},
{"d":"2012-02-01","h":20.4,"l":16.8,"c":18.4,"r":36,"m":-1.0,"s":-0.52,"b":-0.48},
{"d":"2012-03-01","h":19.3,"l":13.66,"c":15.5,"r":31,"m":-1.3,"s":-0.68,"b":-0.62},
{"d":"2012-04-01","h":20.4,"l":14.6,"c":17.2,"r":52,"m":-1.5,"s":-0.84,"b":-0.66},
{"d":"2012-05-01","h":25.1,"l":15.9,"c":24.1,"r":50,"m":-1.4,"s":-0.95,"b":-0.45},
{"d":"2012-06-01","h":27.7,"l":16.8,"c":17.1,"r":40,"m":-1.5,"s":-1.06,"b":-0.44},
{"d":"2012-07-01","h":21.2,"l":15.3,"c":18.9,"r":45,"m":-1.7,"s":-1.19,"b":-0.51},
{"d":"2012-08-01","h":18.9,"l":13.3,"c":17.5,"r":42,"m":-1.8,"s":-1.31,"b":-0.49},
{"d":"2012-09-01","h":17.5,"l":13.4,"c":15.7,"r":43,"m":-1.9,"s":-1.43,"b":-0.47},
{"d":"2012-10-01","h":18.9,"l":14.6,"c":18.6,"r":47,"m":-2.0,"s":-1.54,"b":-0.46},
{"d":"2012-11-01","h":18.5,"l":14.5,"c":16.0,"r":42,"m":-2.1,"s":-1.65,"b":-0.45},
{"d":"2012-12-01","h":23.2,"l":15.4,"c":18.0,"r":38,"m":-2.1,"s":-1.74,"b":-0.36},
{"d":"2013-01-01","h":18.0,"l":12.3,"c":14.3,"r":42,"m":-2.2,"s":-1.83,"b":-0.37},
{"d":"2013-02-01","h":16.9,"l":12.7,"c":15.5,"r":46,"m":-2.3,"s":-1.93,"b":-0.37},
{"d":"2013-03-01","h":14.9,"l":11.05,"c":12.7,"r":48,"m":-2.4,"s":-2.02,"b":-0.38},
{"d":"2013-04-01","h":17.5,"l":11.9,"c":13.5,"r":51,"m":-2.5,"s":-2.12,"b":-0.38},
{"d":"2013-05-01","h":16.6,"l":12.2,"c":16.3,"r":53,"m":-2.3,"s":-2.15,"b":-0.15},
{"d":"2013-06-01","h":21.9,"l":14.4,"c":16.9,"r":55,"m":-2.2,"s":-2.16,"b":-0.04},
{"d":"2013-07-01","h":16.9,"l":12.9,"c":13.5,"r":47,"m":-2.2,"s":-2.17,"b":-0.03},
{"d":"2013-08-01","h":17.9,"l":12.4,"c":17.0,"r":40,"m":-2.0,"s":-2.14,"b":0.14},
{"d":"2013-09-01","h":17.6,"l":13.2,"c":16.6,"r":45,"m":-1.9,"s":-2.09,"b":0.19},
{"d":"2013-10-01","h":21.3,"l":13.5,"c":13.8,"r":40,"m":-1.8,"s":-2.03,"b":0.23},
{"d":"2013-11-01","h":14.4,"l":11.9,"c":13.7,"r":52,"m":-1.8,"s":-1.99,"b":0.19},
{"d":"2013-12-01","h":16.5,"l":12.3,"c":13.7,"r":64,"m":-1.7,"s":-1.93,"b":0.23},
{"d":"2014-01-01","h":19.5,"l":12.5,"c":18.4,"r":60,"m":-1.6,"s":-1.86,"b":0.26},
{"d":"2014-02-01","h":21.5,"l":13.5,"c":14.0,"r":45,"m":-1.5,"s":-1.79,"b":0.29},
{"d":"2014-03-01","h":17.7,"l":13.6,"c":13.9,"r":40,"m":-1.6,"s":-1.75,"b":0.15},
{"d":"2014-04-01","h":17.6,"l":12.9,"c":13.4,"r":35,"m":-1.7,"s":-1.74,"b":0.04},
{"d":"2014-05-01","h":13.9,"l":10.7,"c":11.4,"r":30,"m":-1.6,"s":-1.71,"b":0.11},
{"d":"2014-06-01","h":12.6,"l":10.3,"c":11.6,"r":42,"m":-1.5,"s":-1.67,"b":0.17},
{"d":"2014-07-01","h":17.6,"l":10.3,"c":17.0,"r":62,"m":-1.3,"s":-1.6,"b":0.3},
{"d":"2014-08-01","h":17.0,"l":11.2,"c":12.0,"r":47,"m":-1.2,"s":-1.52,"b":0.32},
{"d":"2014-09-01","h":17.3,"l":11.3,"c":16.3,"r":57,"m":-1.1,"s":-1.43,"b":0.33},
{"d":"2014-10-01","h":31.06,"l":14.0,"c":14.0,"r":48,"m":-0.8,"s":-1.31,"b":0.51},
{"d":"2014-11-01","h":14.7,"l":12.4,"c":13.3,"r":55,"m":-0.8,"s":-1.21,"b":0.41},
{"d":"2014-12-01","h":25.2,"l":11.8,"c":19.2,"r":69,"m":-0.7,"s":-1.1,"b":0.4},
{"d":"2015-01-01","h":22.5,"l":15.0,"c":20.9,"r":47,"m":-0.2,"s":-0.92,"b":0.72},
{"d":"2015-02-01","h":21.5,"l":13.0,"c":13.3,"r":46,"m":-0.3,"s":-0.8,"b":0.5},
{"d":"2015-03-01","h":17.7,"l":12.7,"c":15.3,"r":45,"m":-0.3,"s":-0.7,"b":0.4},
{"d":"2015-04-01","h":15.6,"l":12.3,"c":14.6,"r":52,"m":-0.4,"s":-0.64,"b":0.24},
{"d":"2015-05-01","h":15.7,"l":11.8,"c":13.8,"r":60,"m":-0.4,"s":-0.59,"b":0.19},
{"d":"2015-06-01","h":19.9,"l":12.8,"c":18.2,"r":45,"m":-0.3,"s":-0.53,"b":0.23},
{"d":"2015-07-01","h":18.9,"l":11.8,"c":12.1,"r":52,"m":-0.4,"s":-0.51,"b":0.11},
{"d":"2015-08-01","h":53.29,"l":11.0,"c":28.4,"r":70,"m":1.2,"s":-0.17,"b":1.37},
{"d":"2015-09-01","h":33.5,"l":20.0,"c":24.5,"r":55,"m":1.0,"s":0.06,"b":0.94},
{"d":"2015-10-01","h":25.0,"l":14.4,"c":15.1,"r":44,"m":0.6,"s":0.17,"b":0.43},
{"d":"2015-11-01","h":20.8,"l":14.0,"c":16.1,"r":48,"m":0.6,"s":0.26,"b":0.34},
{"d":"2015-12-01","h":25.0,"l":14.7,"c":18.2,"r":52,"m":0.8,"s":0.36,"b":0.44},
{"d":"2016-01-01","h":32.1,"l":17.5,"c":20.2,"r":55,"m":1.0,"s":0.49,"b":0.51},
{"d":"2016-02-01","h":30.9,"l":19.5,"c":20.6,"r":48,"m":1.0,"s":0.59,"b":0.41},
{"d":"2016-03-01","h":20.9,"l":13.1,"c":13.9,"r":40,"m":0.6,"s":0.59,"b":0.01},
{"d":"2016-04-01","h":16.6,"l":12.5,"c":15.7,"r":42,"m":0.2,"s":0.51,"b":-0.31},
{"d":"2016-05-01","h":17.4,"l":13.1,"c":14.2,"r":43,"m":-0.2,"s":0.37,"b":-0.57},
{"d":"2016-06-01","h":26.7,"l":12.9,"c":15.6,"r":40,"m":-0.2,"s":0.26,"b":-0.46},
{"d":"2016-07-01","h":16.1,"l":11.5,"c":11.9,"r":38,"m":-0.5,"s":0.11,"b":-0.61},
{"d":"2016-08-01","h":13.8,"l":11.0,"c":13.4,"r":45,"m":-0.6,"s":-0.03,"b":-0.57},
{"d":"2016-09-01","h":22.0,"l":11.0,"c":13.3,"r":59,"m":-0.7,"s":-0.16,"b":-0.54},
{"d":"2016-10-01","h":17.6,"l":13.1,"c":17.1,"r":48,"m":-0.6,"s":-0.25,"b":-0.35},
{"d":"2016-11-01","h":23.0,"l":12.6,"c":13.3,"r":42,"m":-0.7,"s":-0.34,"b":-0.36},
{"d":"2016-12-01","h":15.0,"l":11.0,"c":14.0,"r":44,"m":-0.8,"s":-0.43,"b":-0.37},
{"d":"2017-01-01","h":14.5,"l":10.6,"c":11.99,"r":45,"m":-0.9,"s":-0.53,"b":-0.37},
{"d":"2017-02-01","h":13.7,"l":10.7,"c":12.92,"r":40,"m":-0.9,"s":-0.6,"b":-0.3},
{"d":"2017-03-01","h":15.8,"l":10.8,"c":12.37,"r":37,"m":-1.0,"s":-0.68,"b":-0.32},
{"d":"2017-04-01","h":16.3,"l":10.8,"c":10.82,"r":35,"m":-1.1,"s":-0.76,"b":-0.34},
{"d":"2017-05-01","h":15.8,"l":9.56,"c":10.41,"r":33,"m":-1.2,"s":-0.85,"b":-0.35},
{"d":"2017-06-01","h":12.2,"l":9.37,"c":11.18,"r":37,"m":-1.3,"s":-0.94,"b":-0.36},
{"d":"2017-07-01","h":11.5,"l":8.84,"c":10.26,"r":34,"m":-1.4,"s":-1.03,"b":-0.37},
{"d":"2017-08-01","h":17.28,"l":9.5,"c":14.26,"r":63.53,"m":-1.253,"s":-1.14,"b":-0.113}
],
"ema13":[
{"d":"1991-01-01","v":23.0},{"d":"1991-04-01","v":20.3},{"d":"1991-07-01","v":18.6},{"d":"1991-10-01","v":17.6},
{"d":"1992-01-01","v":17.7},{"d":"1992-04-01","v":16.6},{"d":"1992-07-01","v":15.4},{"d":"1992-10-01","v":15.2},
{"d":"1993-01-01","v":14.3},{"d":"1993-04-01","v":13.4},{"d":"1993-07-01","v":12.7},{"d":"1993-10-01","v":12.3},
{"d":"1994-01-01","v":12.1},{"d":"1994-03-01","v":14.3},{"d":"1994-06-01","v":14.6},{"d":"1994-09-01","v":13.9},{"d":"1994-12-01","v":14.1},
{"d":"1995-03-01","v":13.2},{"d":"1995-06-01","v":12.7},{"d":"1995-09-01","v":12.8},{"d":"1995-12-01","v":12.5},
{"d":"1996-03-01","v":14.6},{"d":"1996-06-01","v":15.6},{"d":"1996-09-01","v":16.8},{"d":"1996-12-01","v":17.8},
{"d":"1997-03-01","v":19.3},{"d":"1997-06-01","v":19.8},{"d":"1997-09-01","v":21.0},{"d":"1997-11-01","v":23.8},
{"d":"1998-02-01","v":23.0},{"d":"1998-05-01","v":21.6},{"d":"1998-07-01","v":21.2},{"d":"1998-09-01","v":25.8},{"d":"1998-12-01","v":27.3},
{"d":"1999-03-01","v":26.3},{"d":"1999-06-01","v":25.3},{"d":"1999-09-01","v":24.8},{"d":"1999-12-01","v":24.3},
{"d":"2000-03-01","v":24.4},{"d":"2000-06-01","v":24.0},{"d":"2000-09-01","v":22.3},{"d":"2000-12-01","v":24.8},
{"d":"2001-03-01","v":25.8},{"d":"2001-06-01","v":24.3},{"d":"2001-09-01","v":26.0},{"d":"2001-12-01","v":25.6},
{"d":"2002-03-01","v":23.0},{"d":"2002-06-01","v":23.2},{"d":"2002-09-01","v":27.8},{"d":"2002-12-01","v":29.0},
{"d":"2003-03-01","v":29.2},{"d":"2003-06-01","v":26.0},{"d":"2003-09-01","v":23.0},{"d":"2003-12-01","v":20.6},
{"d":"2004-03-01","v":19.2},{"d":"2004-06-01","v":17.6},{"d":"2004-09-01","v":16.3},{"d":"2004-12-01","v":15.2},
{"d":"2005-03-01","v":14.2},{"d":"2005-06-01","v":13.8},{"d":"2005-09-01","v":13.2},{"d":"2005-12-01","v":13.0},
{"d":"2006-03-01","v":12.6},{"d":"2006-06-01","v":13.6},{"d":"2006-09-01","v":13.3},{"d":"2006-12-01","v":12.4},
{"d":"2007-03-01","v":12.9},{"d":"2007-06-01","v":13.6},{"d":"2007-09-01","v":16.8},{"d":"2007-12-01","v":18.3},
{"d":"2008-03-01","v":21.0},{"d":"2008-06-01","v":20.8},{"d":"2008-09-01","v":23.5},{"d":"2008-10-01","v":28.7},{"d":"2008-12-01","v":34.5},
{"d":"2009-03-01","v":37.6},{"d":"2009-06-01","v":33.0},{"d":"2009-09-01","v":29.5},{"d":"2009-12-01","v":27.3},
{"d":"2010-03-01","v":25.0},{"d":"2010-06-01","v":27.5},{"d":"2010-09-01","v":25.5},{"d":"2010-12-01","v":23.0},
{"d":"2011-03-01","v":21.5},{"d":"2011-06-01","v":19.5},{"d":"2011-09-01","v":24.0},{"d":"2011-12-01","v":26.0},
{"d":"2012-03-01","v":22.5},{"d":"2012-06-01","v":21.0},{"d":"2012-09-01","v":19.5},{"d":"2012-12-01","v":18.0},
{"d":"2013-03-01","v":16.9},{"d":"2013-06-01","v":16.5},{"d":"2013-09-01","v":16.2},{"d":"2013-12-01","v":15.5},
{"d":"2014-03-01","v":15.3},{"d":"2014-06-01","v":14.4},{"d":"2014-09-01","v":14.4},{"d":"2014-12-01","v":15.0},
{"d":"2015-03-01","v":16.0},{"d":"2015-06-01","v":16.9},{"d":"2015-09-01","v":17.8},{"d":"2015-12-01","v":18.0},
{"d":"2016-03-01","v":17.8},{"d":"2016-06-01","v":16.3},{"d":"2016-09-01","v":15.3},{"d":"2016-12-01","v":14.4},
{"d":"2017-03-01","v":13.6},{"d":"2017-06-01","v":12.9},{"d":"2017-08-01","v":12.76}
],
"ema34":[
{"d":"1992-11-01","v":18.4},
{"d":"1993-02-01","v":17.3},{"d":"1993-05-01","v":16.4},{"d":"1993-08-01","v":15.6},{"d":"1993-11-01","v":15.0},
{"d":"1994-02-01","v":15.1},{"d":"1994-05-01","v":15.0},{"d":"1994-08-01","v":14.8},{"d":"1994-11-01","v":14.6},
{"d":"1995-02-01","v":14.4},{"d":"1995-05-01","v":14.1},{"d":"1995-08-01","v":13.9},{"d":"1995-11-01","v":13.7},
{"d":"1996-02-01","v":14.2},{"d":"1996-05-01","v":14.8},{"d":"1996-08-01","v":15.4},{"d":"1996-11-01","v":16.1},
{"d":"1997-02-01","v":17.0},{"d":"1997-05-01","v":17.6},{"d":"1997-08-01","v":18.4},{"d":"1997-11-01","v":19.6},
{"d":"1998-02-01","v":19.9},{"d":"1998-05-01","v":19.8},{"d":"1998-08-01","v":21.0},{"d":"1998-11-01","v":22.8},
{"d":"1999-02-01","v":23.4},{"d":"1999-05-01","v":23.6},{"d":"1999-08-01","v":23.7},{"d":"1999-11-01","v":23.6},
{"d":"2000-02-01","v":23.8},{"d":"2000-05-01","v":24.2},{"d":"2000-08-01","v":23.2},{"d":"2000-11-01","v":23.8},
{"d":"2001-02-01","v":24.6},{"d":"2001-05-01","v":25.0},{"d":"2001-08-01","v":24.8},{"d":"2001-11-01","v":25.4},
{"d":"2002-03-01","v":23.6},{"d":"2002-05-01","v":23.8},{"d":"2002-08-01","v":25.2},{"d":"2002-11-01","v":26.2},
{"d":"2003-02-01","v":26.5},{"d":"2003-05-01","v":26.0},{"d":"2003-08-01","v":25.0},{"d":"2003-11-01","v":23.5},
{"d":"2004-02-01","v":22.0},{"d":"2004-05-01","v":20.8},{"d":"2004-08-01","v":19.6},{"d":"2004-11-01","v":18.5},
{"d":"2005-02-01","v":17.4},{"d":"2005-05-01","v":16.7},{"d":"2005-08-01","v":15.9},{"d":"2005-11-01","v":15.5},
{"d":"2006-02-01","v":15.0},{"d":"2006-05-01","v":14.7},{"d":"2006-08-01","v":14.6},{"d":"2006-11-01","v":14.2},
{"d":"2007-02-01","v":14.0},{"d":"2007-05-01","v":14.0},{"d":"2007-08-01","v":15.2},{"d":"2007-11-01","v":16.3},
{"d":"2008-02-01","v":17.8},{"d":"2008-05-01","v":18.6},{"d":"2008-08-01","v":19.2},{"d":"2008-10-01","v":22.0},{"d":"2008-12-01","v":25.5},
{"d":"2009-03-01","v":28.3},{"d":"2009-06-01","v":28.2},{"d":"2009-09-01","v":27.7},{"d":"2009-12-01","v":27.1},
{"d":"2010-03-01","v":26.2},{"d":"2010-06-01","v":27.0},{"d":"2010-09-01","v":26.6},{"d":"2010-12-01","v":25.4},
{"d":"2011-03-01","v":24.3},{"d":"2011-06-01","v":23.0},{"d":"2011-09-01","v":24.5},{"d":"2011-12-01","v":25.3},
{"d":"2012-03-01","v":24.3},{"d":"2012-06-01","v":23.2},{"d":"2012-09-01","v":22.2},{"d":"2012-12-01","v":21.4},
{"d":"2013-03-01","v":20.5},{"d":"2013-06-01","v":19.9},{"d":"2013-09-01","v":19.3},{"d":"2013-12-01","v":18.6},
{"d":"2014-03-01","v":18.2},{"d":"2014-06-01","v":17.4},{"d":"2014-09-01","v":16.9},{"d":"2014-12-01","v":16.8},
{"d":"2015-03-01","v":16.5},{"d":"2015-06-01","v":16.2},{"d":"2015-09-01","v":17.3},{"d":"2015-12-01","v":17.4},
{"d":"2016-03-01","v":17.5},{"d":"2016-06-01","v":17.0},{"d":"2016-09-01","v":16.3},{"d":"2016-12-01","v":15.9},
{"d":"2017-03-01","v":15.4},{"d":"2017-06-01","v":14.8},{"d":"2017-08-01","v":14.42}
],
"peaks":[
{"d":"1990-01-01","v":27.25,"t":"27.25"},
{"d":"1990-08-01","v":36.47,"t":"36.47"},
{"d":"1998-10-01","v":45.74,"t":"45.74"},
{"d":"2002-07-01","v":45.08,"t":"45.08"},
{"d":"2006-06-01","v":23.81,"t":"23.81"},
{"d":"2008-10-01","v":89.53,"t":"89.53"},
{"d":"2010-05-01","v":48.2,"t":"48.20"},
{"d":"2011-08-01","v":48.0,"t":"48.00"},
{"d":"2014-10-01","v":31.06,"t":"31.06"},
{"d":"2015-08-01","v":53.29,"t":"53.29"}
],
"troughs":[
{"d":"1990-07-01","v":14.72,"t":"14.72"},
{"d":"1999-07-01","v":17.42,"t":"17.42"},
{"d":"2002-03-01","v":17.4,"t":"17.40"},
{"d":"2007-01-01","v":9.39,"t":"9.39"},
{"d":"2012-03-01","v":13.66,"t":"13.66"},
{"d":"2013-03-01","v":11.05,"t":"11.05"},
{"d":"2017-07-01","v":8.84,"t":"8.84"}
],
"notesBlue":[
{"d":"1992-08-18","v":8.69,"t":"1993"},
{"d":"2005-09-27","v":8.65,"t":"2006"},
{"d":"2015-11-18","v":8.34,"t":"2019?"}
],
"notesBlack":[
{"d":"1993-12-14","v":8.56,"t":"9.31"},
{"d":"2017-06-28","v":7.14,"t":"8.84"}
]
},
"spacing":0,
"vconcat":[
 {
  "width":1196,"height":176,
  "resolve":{"axis":{"y":"independent"}},
  "layer":[
   {"data":{"name":"vix"},
    "transform":[{"filter":"isValid(datum.r)"}],
    "mark":{"type":"line","color":"#4A3CC0","strokeWidth":1.6},
    "encoding":{
     "x":{"field":"d","type":"temporal","scale":{"type":"utc","domain":[{"year":1989,"month":12,"date":6,"utc":true},{"year":2017,"month":9,"date":29,"utc":true}]},"axis":{"grid":true,"labels":false,"tickCount":{"interval":"year","step":1}}},
     "y":{"field":"r","type":"quantitative","scale":{"domain":[-7.1,104.6],"nice":false,"zero":false},"axis":{"orient":"right","values":[10,30,50,70,90],"labelPadding":4,"grid":true}}}},
   {"data":{"values":[{}]},
    "mark":{"type":"rule","color":"#2D2D6E","strokeWidth":1.6},
    "encoding":{"y":{"datum":70,"type":"quantitative","axis":null}}},
   {"data":{"values":[{}]},
    "mark":{"type":"rule","color":"#2D2D6E","strokeWidth":1.6},
    "encoding":{"y":{"datum":30,"type":"quantitative","axis":null}}},
   {"data":{"values":[{}]},
    "mark":{"type":"rule","color":"#333355","strokeWidth":1.2,"strokeDash":[9,3,2,3]},
    "encoding":{"y":{"datum":50,"type":"quantitative","axis":null}}},
   {"data":{"name":"vix"},
    "transform":[{"filter":"isValid(datum.r)"}],
    "mark":{"type":"line","color":"#4A3CC0","strokeWidth":1.6},
    "encoding":{"x":{"field":"d","type":"temporal"},"y":{"field":"r","type":"quantitative","axis":{"orient":"right","values":[0,20,40,60,80,100],"labels":false,"grid":true}}}},
   {"data":{"values":[{}]},
    "mark":{"type":"text","align":"left","baseline":"middle","dx":2,"fontSize":19,"color":"#111111","font":"DejaVu Sans Mono"},
    "encoding":{"x":{"datum":{"year":1990,"month":1,"date":1,"utc":true},"type":"temporal"},"y":{"datum":98.3,"type":"quantitative","axis":null},"text":{"value":"▲ RSI(5) 63.53"}}}
  ]
 },
 {
  "width":1196,"height":510,
  "layer":[
   {"data":{"name":"vix"},
    "mark":{"type":"rule","color":"#000000","strokeWidth":1.6},
    "encoding":{
     "x":{"field":"d","type":"temporal","scale":{"type":"utc","domain":[{"year":1989,"month":12,"date":6,"utc":true},{"year":2017,"month":9,"date":29,"utc":true}]},"axis":{"grid":true,"format":"%y","labelPadding":2,"tickCount":{"interval":"year","step":1}}},
     "y":{"field":"l","type":"quantitative","scale":{"type":"log","domain":[7.4,104.5],"nice":false,"zero":false},"axis":{"orient":"right","values":[10,15,20,25,30,35,40,45,50,55,60,65,70,75,80,85,90],"format":"d","labelPadding":4,"grid":true}},
     "y2":{"field":"h"}}},
   {"data":{"name":"vix"},
    "mark":{"type":"tick","orient":"horizontal","color":"#000000","size":6,"thickness":1.5,"opacity":1},
    "encoding":{"x":{"field":"d","type":"temporal"},"y":{"field":"c","type":"quantitative"}}},
   {"data":{"name":"ema34"},
    "mark":{"type":"line","color":"#D33A2C","strokeWidth":1.4},
    "encoding":{"x":{"field":"d","type":"temporal"},"y":{"field":"v","type":"quantitative"}}},
   {"data":{"name":"ema13"},
    "mark":{"type":"line","color":"#2A2A78","strokeWidth":1.4},
    "encoding":{"x":{"field":"d","type":"temporal"},"y":{"field":"v","type":"quantitative"}}},
   {"data":{"name":"peaks"},
    "mark":{"type":"point","shape":"M-0.94,-1.08H0.94V-0.4H0.16L0,-0.12L-0.16,-0.4H-0.94Z","size":2500,"filled":true,"fill":"#FFFFF6","stroke":"#9A9A9A","strokeWidth":1,"opacity":1},
    "encoding":{"x":{"field":"d","type":"temporal"},"y":{"field":"v","type":"quantitative"}}},
   {"data":{"name":"peaks"},
    "mark":{"type":"text","fontSize":13,"font":"DejaVu Sans Mono","color":"#222222","baseline":"middle","dy":-18.5},
    "encoding":{"x":{"field":"d","type":"temporal"},"y":{"field":"v","type":"quantitative"},"text":{"field":"t"}}},
   {"data":{"name":"troughs"},
    "mark":{"type":"point","shape":"M-0.94,1.08H0.94V0.4H0.16L0,0.12L-0.16,0.4H-0.94Z","size":2500,"filled":true,"fill":"#FFFFF6","stroke":"#9A9A9A","strokeWidth":1,"opacity":1},
    "encoding":{"x":{"field":"d","type":"temporal"},"y":{"field":"v","type":"quantitative"}}},
   {"data":{"name":"troughs"},
    "mark":{"type":"text","fontSize":13,"font":"DejaVu Sans Mono","color":"#222222","baseline":"middle","dy":18.5},
    "encoding":{"x":{"field":"d","type":"temporal"},"y":{"field":"v","type":"quantitative"},"text":{"field":"t"}}},
   {"data":{"name":"notesBlue"},
    "mark":{"type":"text","fontSize":18,"font":"Liberation Sans","fontWeight":"bold","color":"#2020A8","baseline":"middle"},
    "encoding":{"x":{"field":"d","type":"temporal"},"y":{"field":"v","type":"quantitative"},"text":{"field":"t"}}},
   {"data":{"name":"notesBlack"},
    "mark":{"type":"text","fontSize":18,"font":"Liberation Sans","fontWeight":"bold","color":"#111111","baseline":"middle"},
    "encoding":{"x":{"field":"d","type":"temporal"},"y":{"field":"v","type":"quantitative"},"text":{"field":"t"}}},
   {"data":{"values":[{}]},
    "mark":{"type":"text","align":"left","baseline":"middle","dx":2,"fontSize":17,"color":"#111111","font":"DejaVu Sans Mono"},
    "encoding":{"x":{"datum":{"year":1990,"month":1,"date":1,"utc":true},"type":"temporal"},"y":{"datum":97.7,"type":"quantitative"},"text":{"value":"↑↓ $VIX (Monthly) 14.26"}}},
   {"data":{"values":[{}]},
    "mark":{"type":"text","align":"left","baseline":"middle","dx":2,"fontSize":16,"color":"#1E1E50","font":"DejaVu Sans Mono"},
    "encoding":{"x":{"datum":{"year":1990,"month":1,"date":1,"utc":true},"type":"temporal"},"y":{"datum":88.1,"type":"quantitative"},"text":{"value":"—EMA(13) 12.76"}}},
   {"data":{"values":[{}]},
    "mark":{"type":"text","align":"left","baseline":"middle","dx":2,"fontSize":16,"color":"#B8392E","font":"DejaVu Sans Mono"},
    "encoding":{"x":{"datum":{"year":1990,"month":1,"date":1,"utc":true},"type":"temporal"},"y":{"datum":80.2,"type":"quantitative"},"text":{"value":"—EMA(34) 14.42"}}},
   {"data":{"values":[{}]},
    "mark":{"type":"text","align":"left","baseline":"middle","dx":2,"fontSize":15,"color":"#A8A8A0","font":"DejaVu Sans Mono"},
    "encoding":{"x":{"datum":{"year":1990,"month":1,"date":1,"utc":true},"type":"temporal"},"y":{"datum":72.7,"type":"quantitative"},"text":{"value":"▮"}}},
   {"data":{"values":[{}]},
    "mark":{"type":"text","align":"left","baseline":"middle","dx":12,"fontSize":16,"color":"#2E9C9C","font":"DejaVu Sans Mono"},
    "encoding":{"x":{"datum":{"year":1990,"month":1,"date":1,"utc":true},"type":"temporal"},"y":{"datum":72.7,"type":"quantitative"},"text":{"value":"Volume undef"}}}
  ]
 },
 {
  "width":1196,"height":178,
  "resolve":{"axis":{"y":"independent"}},
  "layer":[
   {"data":{"name":"vix"},
    "transform":[{"filter":"isValid(datum.b)"}],
    "mark":{"type":"bar","size":3.3},
    "encoding":{
     "x":{"field":"d","type":"temporal","scale":{"type":"utc","domain":[{"year":1989,"month":12,"date":6,"utc":true},{"year":2017,"month":9,"date":29,"utc":true}]},"axis":{"grid":true,"format":"%y","labelPadding":4,"tickCount":{"interval":"year","step":1}}},
     "y":{"field":"b","type":"quantitative","scale":{"domain":[-3.91,8.75],"nice":false,"zero":false},"axis":{"orient":"right","values":[-2,0,2,4,6,8],"labelPadding":4,"grid":true}},
     "y2":{"datum":0},
     "color":{"condition":{"test":"datum.b < 0","value":"#7C7CD8"},"value":"#6C6C6C"}}},
   {"data":{"name":"vix"},
    "transform":[{"filter":"isValid(datum.s)"}],
    "mark":{"type":"line","color":"#5548C8","strokeWidth":1.3},
    "encoding":{"x":{"field":"d","type":"temporal"},"y":{"field":"s","type":"quantitative","axis":{"orient":"right","values":[-3,-1,1,3,5,7],"labels":false,"grid":true}}}},
   {"data":{"name":"vix"},
    "transform":[{"filter":"isValid(datum.m)"}],
    "mark":{"type":"line","color":"#111111","strokeWidth":2.4},
    "encoding":{"x":{"field":"d","type":"temporal"},"y":{"field":"m","type":"quantitative","axis":null}}},
   {"data":{"values":[{}]},
    "mark":{"type":"text","align":"left","baseline":"middle","dx":2,"fontSize":19,"color":"#111111","font":"DejaVu Sans Mono"},
    "encoding":{"x":{"datum":{"year":1990,"month":1,"date":1,"utc":true},"type":"temporal"},"y":{"datum":7.25,"type":"quantitative","axis":null},"text":{"value":"— MACD(12,26,9) -1.253,"}}},
   {"data":{"values":[{}]},
    "mark":{"type":"text","align":"left","baseline":"middle","dx":277,"fontSize":19,"color":"#34349C","font":"DejaVu Sans Mono"},
    "encoding":{"x":{"datum":{"year":1990,"month":1,"date":1,"utc":true},"type":"temporal"},"y":{"datum":7.25,"type":"quantitative","axis":null},"text":{"value":"-1.140,"}}},
   {"data":{"values":[{}]},
    "mark":{"type":"text","align":"left","baseline":"middle","dx":368,"fontSize":19,"color":"#A0A090","font":"DejaVu Sans Mono"},
    "encoding":{"x":{"datum":{"year":1990,"month":1,"date":1,"utc":true},"type":"temporal"},"y":{"datum":7.25,"type":"quantitative","axis":null},"text":{"value":"-0.113"}}}
  ]
 }
]
}
